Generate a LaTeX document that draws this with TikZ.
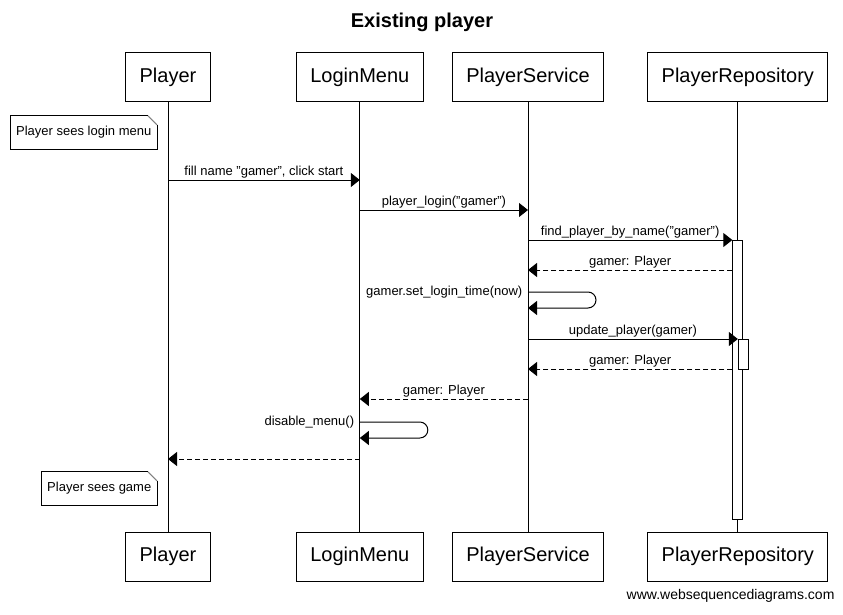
\documentclass[tikz,border=0pt]{standalone}
\usepackage{fontspec}
\setmainfont{Liberation Sans}
\usetikzlibrary{arrows.meta,positioning}
\tikzset{
  actor/.style = {draw, line width=1pt, minimum height=49pt, inner xsep=14pt,
                  font=\fontsize{20}{24}\selectfont},
  life/.style  = {line width=1pt},
  bar/.style   = {draw, fill=white, line width=1pt, minimum width=10pt, inner sep=0pt},
  call/.style  = {-{Triangle[length=9pt,width=14pt]}, line width=1pt},
  reply/.style = {call, dash pattern=on 5pt off 3pt},
  self/.style  = {call, rounded corners=8pt},
  msg/.style   = {above, inner sep=1.5pt, font=\fontsize{13}{15}\selectfont},
  note/.style  = {inner xsep=5.5pt, minimum height=33pt, font=\fontsize{13}{15}\selectfont},
  fold/.style  = {line width=1pt}
}

\begin{document}
\begin{tikzpicture}[x=1pt, y=-1pt]
  \useasboundingbox (0,0) rectangle (843,615);
  \node[font=\bfseries\fontsize{20}{24}\selectfont] (title) at (422,22) {Existing player};

  % participants, top and bottom
  \node[actor] (player)              at (168,77.5)  {Player};
  \node[actor] (menu)    [right=85pt of player]     {LoginMenu};
  \node[actor] (service) [right=28pt of menu]       {PlayerService};
  \node[actor] (repo)    [right=43pt of service]    {PlayerRepository};
  \node[actor] (playerB)  [below=429pt of player]   {Player}
    edge [life] (player);
  \node[actor] (menuB)    [below=429pt of menu]     {LoginMenu}
    edge [life] (menu);
  \node[actor] (serviceB) [below=429pt of service]  {PlayerService}
    edge [life] (service);
  \node[actor] (repoB)    [below=429pt of repo]     {PlayerRepository}
    edge [life] (repo);

  % message rows
  \coordinate (r1)  at (0,180);
  \coordinate (r2)  at (0,210);
  \coordinate (r3)  at (0,240);
  \coordinate (r4)  at (0,270);
  \coordinate (r5)  at (0,292);
  \coordinate (r5b) at (0,308);
  \coordinate (r6)  at (0,339);
  \coordinate (r7)  at (0,369);
  \coordinate (r8)  at (0,399);
  \coordinate (r9)  at (0,422);
  \coordinate (r9b) at (0,438);
  \coordinate (r10) at (0,459);

  % activations
  \node[bar, anchor=north, minimum height=279pt] (act1) at (repo |- r3) {};
  \node[bar, anchor=north west, minimum height=30pt] (act2) at (repo |- r6) {};

  % notes
  \node[note, anchor=east] (seeMenu) at (157,132.5) {Player sees login menu};
  \draw[fold] ([yshift=-9pt]seeMenu.north east) -- (seeMenu.south east)
    -- (seeMenu.south west) -- (seeMenu.north west) -- ([xshift=-9pt]seeMenu.north east);
  \draw[fold, gray] ([xshift=-9pt]seeMenu.north east) -- ([yshift=-9pt]seeMenu.north east);
  \node[note, anchor=east] (seeGame) at (157,488.5) {Player sees game};
  \draw[fold] ([yshift=-9pt]seeGame.north east) -- (seeGame.south east)
    -- (seeGame.south west) -- (seeGame.north west) -- ([xshift=-9pt]seeGame.north east);
  \draw[fold, gray] ([xshift=-9pt]seeGame.north east) -- ([yshift=-9pt]seeGame.north east);

  % messages
  \draw[call]  (player |- r1) -- node[msg] {fill name "gamer", click start} (menu |- r1);
  \draw[call]  (menu |- r2) -- node[msg] {player\_login("gamer")} (service |- r2);
  \draw[call]  (service |- r3) -- node[msg] {find\_player\_by\_name("gamer")} (act1.north west);
  \draw[reply] (act1.west |- r4) -- node[msg] {gamer: Player} (service |- r4);
  \draw[self]  (service |- r5) -- ++(68,0) |- (service |- r5b);
  \node[msg, anchor=east, xshift=-4pt] (setTime) at (service |- r5) {gamer.set\_login\_time(now)};
  \draw[call]  (service |- r6) -- node[msg] {update\_player(gamer)} (act2.north west);
  \draw[reply] (act1.west |- r7) -- node[msg] {gamer: Player} (service |- r7);
  \draw[reply] (service |- r8) -- node[msg] {gamer: Player} (menu |- r8);
  \draw[self]  (menu |- r9) -- ++(68,0) |- (menu |- r9b);
  \node[msg, anchor=east, xshift=-4pt] (disable) at (menu |- r9) {disable\_menu()};
  \draw[reply] (menu |- r10) -- (player |- r10);

  \node[anchor=east, font=\fontsize{14}{17}\selectfont] (site) at (838,596) {www.websequencediagrams.com};
\end{tikzpicture}
\end{document}
